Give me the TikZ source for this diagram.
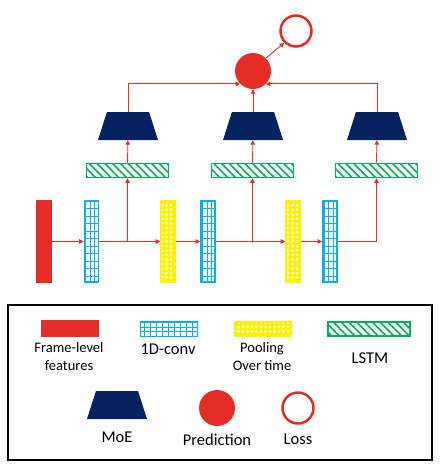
\documentclass[tikz,border=0pt]{standalone}
\usepackage{fontspec}
\setmainfont{Carlito}
\usetikzlibrary{shapes.geometric,arrows.meta,patterns,patterns.meta}

\definecolor{fred}{RGB}{229,45,39}
\definecolor{moenavy}{RGB}{4,34,96}
\definecolor{convblue}{RGB}{0,176,240}
\definecolor{lstmgreen}{RGB}{0,176,80}

\tikzdeclarepattern{
  name=vgrid,
  type=uncolored,
  bounding box={(-0.5pt,-0.5pt) and (5pt,8pt)},
  tile size={(4.5pt,7.5pt)},
  code={\draw[line width=0.8pt] (0,0) -- (4.5pt,0) (0,0) -- (0,7.5pt);}
}
\tikzdeclarepattern{
  name=hgrid,
  type=uncolored,
  bounding box={(-0.5pt,-0.5pt) and (6.5pt,5pt)},
  tile size={(6pt,4.5pt)},
  code={\draw[line width=0.8pt] (0,0) -- (6pt,0) (0,0) -- (0,4.5pt);}
}

\tikzset{
  framebar/.style={fill=fred, draw=none, inner sep=0pt},
  convbar/.style={draw=convblue, line width=1.6pt, inner sep=0pt, pattern=vgrid, pattern color=convblue},
  poolbar/.style={draw=yellow, line width=1.6pt, inner sep=0pt, preaction={fill=yellow},
    pattern={Dots[distance=4.5pt,radius=1.4pt]}, pattern color=white},
  lstmbar/.style={draw=lstmgreen, line width=1.6pt, inner sep=0pt, minimum width=82pt, minimum height=14pt,
    pattern={Lines[angle=-45,distance=5.5pt,line width=1.6pt]}, pattern color=lstmgreen},
  moebox/.style={trapezium, trapezium stretches=true, trapezium left angle=78, trapezium right angle=78,
    fill=moenavy, inner sep=2pt, minimum width=60pt, minimum height=28pt},
  predcirc/.style={circle, fill=fred, inner sep=0pt, minimum size=36pt},
  losscirc/.style={circle, draw=fred, line width=2.5pt, fill=white, inner sep=0pt, minimum size=31pt},
  flow/.style={fred, line width=0.9pt, -{Triangle[length=4.5pt,width=4.5pt]}},
  lbl/.style={font=\fontsize{14.5}{18}\selectfont, align=center},
  biglbl/.style={font=\fontsize{16.5}{18}\selectfont}
}

\begin{document}
\begin{tikzpicture}[x=1pt, y=-1pt]
  \useasboundingbox (0,0) rectangle (440,471);
  %\draw [help lines, step=20] (0,0) grid (440,471);
  \node[framebar, minimum width=16pt, minimum height=83pt] (frame) at (44,241.5) {};
  \node[convbar, minimum width=14pt, minimum height=81pt] (conv1) at (91.5,241.5) {};
  \node[poolbar, minimum width=14pt, minimum height=81pt] (pool1) at (168,241.5) {};
  \node[convbar, minimum width=14pt, minimum height=81pt] (conv2) at (208,241.5) {};
  \node[poolbar, minimum width=14pt, minimum height=81pt] (pool2) at (293,241.5) {};
  \node[convbar, minimum width=14pt, minimum height=81pt] (conv3) at (330,241.5) {};
  \node[lstmbar] (lstm1) at (127.5,170.5) {};
  \node[lstmbar] (lstm2) at (252.5,170.5) {};
  \node[lstmbar] (lstm3) at (376.5,170.5) {};
  \node[moebox] (moe1) at (128,126) {};
  \node[moebox] (moe2) at (253,126) {};
  \node[moebox] (moe3) at (377,126) {};
  \node[predcirc] (pred) at (253,71) {};
  \node[losscirc] (loss) at (296,31) {};
  \draw[flow] (frame) -- (conv1);
  \draw[flow] (conv1) -- (pool1);
  \draw[flow] (pool1) -- (conv2);
  \draw[flow] (conv2) -- (pool2);
  \draw[flow] (pool2) -- (conv3);
  \draw[flow] (lstm1.south |- conv1) -- (lstm1);
  \draw[flow] (lstm2.south |- conv2) -- (lstm2);
  \draw[flow] (conv3) -| (lstm3);
  \draw[flow] (lstm1) -- (moe1);
  \draw[flow] (lstm2) -- (moe2);
  \draw[flow] (lstm3) -- (moe3);
  \draw[flow] (moe1.north) |- (pred.south west);
  \draw[flow] (moe2.north) -- (pred);
  \draw[flow] (moe3.north) |- (pred.south east);
  \draw[flow] (pred.north east) -- (loss.south west);
  % legend
  \node[draw, line width=1.6pt, minimum width=424pt, minimum height=155pt, inner sep=0pt] (legend) at (220,382.5) {};
  \node[framebar, minimum width=58pt, minimum height=17pt] (legframe) at (70,328.5) {};
  \node[draw=convblue, line width=1.6pt, inner sep=0pt, minimum width=57pt, minimum height=15pt,
    pattern=hgrid, pattern color=convblue] (legconv) at (169,329) {};
  \node[poolbar, minimum width=57pt, minimum height=14pt] (legpool) at (263,329) {};
  \node[lstmbar] (leglstm) at (369,329) {};
  \node[moebox] (legmoe) at (117,405) {};
  \node[predcirc] (legpred) at (217,408) {};
  \node[losscirc] (legloss) at (298,408) {};
  \node[lbl] (tframe) at (69,357) {Frame-level\\features};
  \node[biglbl] (tconv) at (168,349) {1D-conv};
  \node[lbl] (tpool) at (262,357) {Pooling\\Over time};
  \node[biglbl] (tlstm) at (370,358) {LSTM};
  \node[biglbl] (tmoe) at (117,437) {MoE};
  \node[biglbl] (tpred) at (217,440) {Prediction};
  \node[biglbl] (tloss) at (298,439) {Loss};
\end{tikzpicture}
\end{document}
